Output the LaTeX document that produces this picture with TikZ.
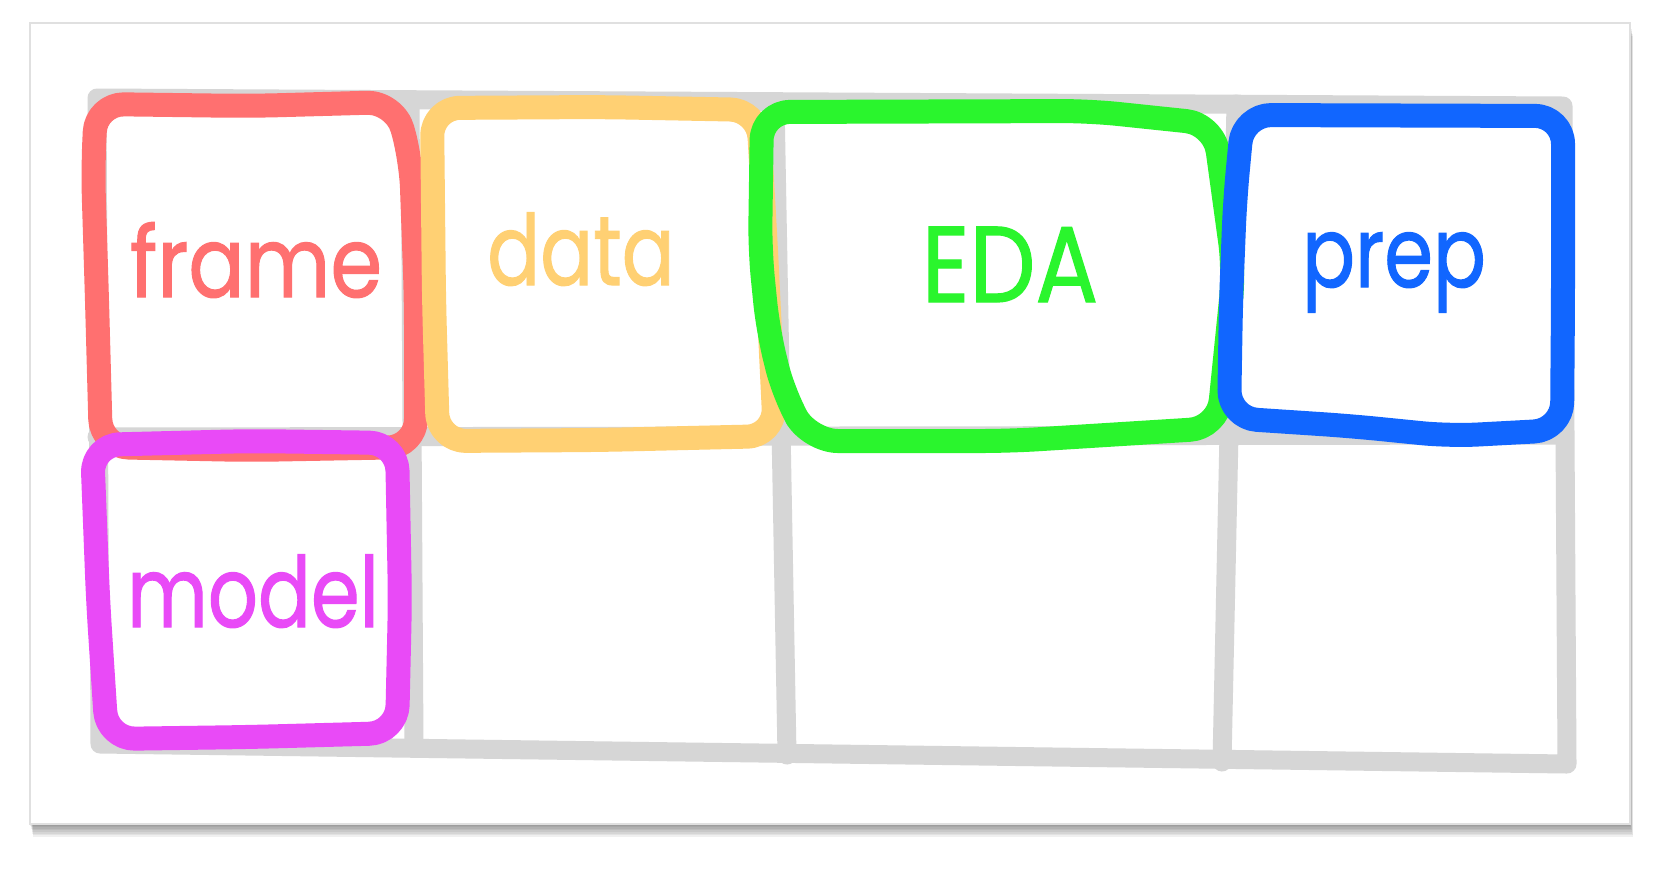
\documentclass[tikz,border=0pt]{standalone}
\usepackage{fontspec}
\usepackage{graphicx}
\newfontfamily\hand[FakeBold=1.2]{Poppins}
\definecolor{cred}{HTML}{FF7070}
\definecolor{corange}{HTML}{FFD073}
\definecolor{cgreen}{HTML}{2AF52D}
\definecolor{cblue}{HTML}{1166FF}
\definecolor{cmag}{HTML}{E94AF7}
\definecolor{cgrid}{HTML}{D6D6D6}
\begin{document}
\begin{tikzpicture}[x=0.5pt,y=-0.5pt,
  handbox/.style={line width=12pt, line join=round, line cap=round, rounded corners=14pt},
  gridline/.style={draw=cgrid, line width=9.5pt, line join=round, line cap=round},
  lbl/.style={anchor=base, inner sep=0pt, font=\hand\fontsize{49}{50}\selectfont}]
\useasboundingbox (0,0) rectangle (1658,874);
% card with shadow
\foreach \k in {1,...,8}
  \fill[black, opacity=0.06] (30+0.4*\k,23+1.6*\k) rectangle (1630+0.4*\k,824+1.6*\k);
\fill[white] (30,23) rectangle (1630,824);
\draw[black!12, line width=0.8pt] (30,23) rectangle (1630,824);
% grid
\draw[gridline] (97,98) -- (1563,106) -- (1567,764) -- (100,744) -- cycle;
\draw[gridline] (97,437) -- (1563,435);
\draw[gridline] (410,100) -- (414,745);
\draw[gridline] (775,102) -- (787,755);
\draw[gridline] (1236,104) -- (1222,762);
% hand-drawn boxes
\draw[handbox, cred] (96,104) -- (250,106) -- (395,102) -- (411,160) -- (416,300) -- (416,447) -- (250,450) -- (101,447) -- (97,300) -- (93,170) -- cycle;
\draw[handbox, corange] (432,108) -- (600,107) -- (758,110) -- (766,250) -- (775,436) -- (600,440) -- (438,441) -- (434,300) -- cycle;
\draw[handbox, cgreen] (762,112) -- (1090,111) -- (1214,124) -- (1234,270) -- (1218,428) -- (1010,441) -- (810,441) -- (784,395) -- (768,330) -- (760,250) -- cycle;
\draw[handbox, cblue] (1243,115) -- (1563,116) -- (1563,300) -- (1562,430) -- (1450,436) -- (1350,426) -- (1229,418) -- (1231,300) -- (1235,200) -- cycle;
\draw[handbox, cmag] (92,445) -- (250,441) -- (397,443) -- (400,600) -- (397,733) -- (250,737) -- (107,739) -- (98,600) -- cycle;
% labels
\node[lbl, text=cred] (frame) at (256,297) {\scalebox{0.85}[1]{frame}};
\node[lbl, text=corange] (data) at (581,285) {\scalebox{0.8}[1]{data}};
\node[lbl, text=cgreen] (eda) at (1010,302) {\scalebox{0.95}[1.1]{EDA}};
\node[lbl, text=cblue] (prep) at (1394,287) {\scalebox{0.8}[1]{prep}};
\node[lbl, text=cmag] (model) at (253,627) {\scalebox{0.8}[1]{model}};
\end{tikzpicture}
\end{document}
